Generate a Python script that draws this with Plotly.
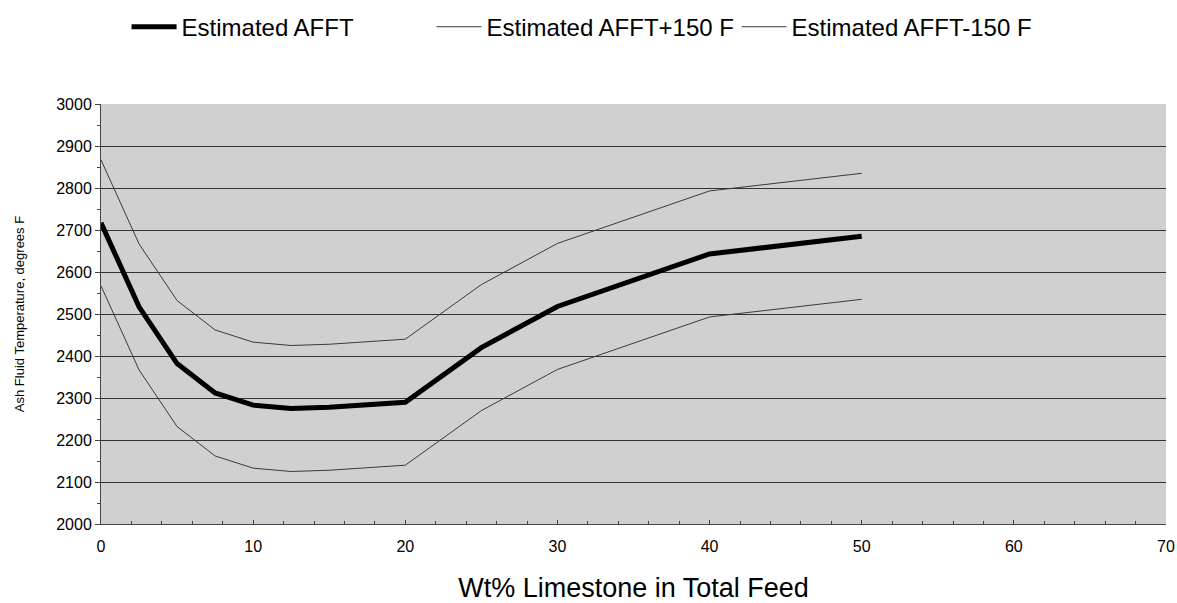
import plotly.graph_objects as go

limestone_wt = [0, 2.5, 5, 7.5, 10, 12.5, 15, 20, 25, 30, 40, 50]
afft_est = [2717, 2517, 2382, 2312, 2283, 2275, 2278, 2290, 2420, 2518, 2643, 2685]
afft_plus = [2867, 2667, 2532, 2462, 2433, 2425, 2428, 2440, 2570, 2668, 2793, 2835]
afft_minus = [2567, 2367, 2232, 2162, 2133, 2125, 2128, 2140, 2270, 2368, 2493, 2535]

names = ["Estimated AFFT", "Estimated AFFT+150 F", "Estimated AFFT-150 F"]
FONT = "Arial, Liberation Sans, sans-serif"

fig = go.Figure()
fig.add_trace(go.Scatter(x=limestone_wt, y=afft_est, mode="lines", name=names[0],
                         line=dict(color="black", width=5)))
fig.add_trace(go.Scatter(x=limestone_wt, y=afft_plus, mode="lines", name=names[1],
                         line=dict(color="#3a3a3a", width=1)))
fig.add_trace(go.Scatter(x=limestone_wt, y=afft_minus, mode="lines", name=names[2],
                         line=dict(color="#3a3a3a", width=1)))

fig.update_layout(
    width=1177, height=603,
    margin=dict(l=101, r=11, t=104, b=79, autoexpand=False),
    paper_bgcolor="white",
    plot_bgcolor="#d0d0d0",
    font=dict(family=FONT, color="black"),
    legend=dict(orientation="h", x=0.024, xanchor="left", y=1.183, yanchor="middle",
                font=dict(size=24, family=FONT), entrywidth=245, entrywidthmode="pixels",
                itemwidth=45,
                bgcolor="rgba(0,0,0,0)", traceorder="normal"),
    xaxis=dict(range=[0, 70], tickvals=[0, 10, 20, 30, 40, 50, 60, 70], automargin=False,
               showgrid=False, zeroline=False, showline=True, linecolor="#444", linewidth=1,
               ticks="inside", ticklen=4, tickcolor="#444", ticklabelstandoff=8,
               minor=dict(dtick=2, ticks="inside", ticklen=3, tickcolor="#444", showgrid=False),
               tickfont=dict(size=16, family=FONT),
               title=dict(text="Wt% Limestone in Total Feed", font=dict(size=27, family=FONT), standoff=24)),
    yaxis=dict(range=[2000, 3000], dtick=100, showgrid=True, gridcolor="#333", gridwidth=1,
               automargin=False,
               zeroline=False, showline=True, linecolor="#444", linewidth=1,
               ticks="outside", ticklen=5, tickcolor="#444",
               minor=dict(dtick=50, ticks="outside", ticklen=3, tickcolor="#444", showgrid=False),
               tickfont=dict(size=16, family=FONT),
               title=dict(text="Ash Fluid Temperature, degrees F", font=dict(size=13, family=FONT), standoff=28)),
)

fig.write_html("out.html", post_script="document.body.style.margin='0';",
               config={"displayModeBar": False})
